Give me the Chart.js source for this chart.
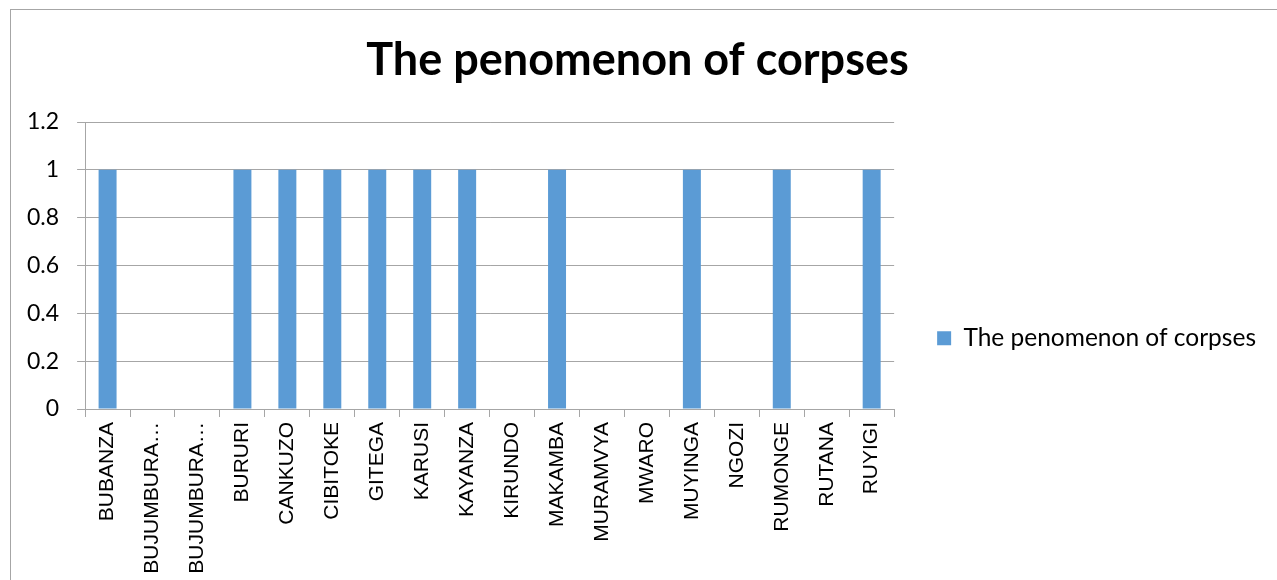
<!DOCTYPE html>
<html>
<head>
<meta charset="utf-8">
<script src="https://cdn.jsdelivr.net/npm/chart.js@4"></script>
<style>
  html, body { margin: 0; padding: 0; overflow: hidden; background: #fff; }
  #wrap { position: relative; width: 1277px; height: 580px; }
  #frame { position: absolute; left: 10px; top: 9px; width: 1400px; height: 700px;
           border: 1px solid #a6a6a6; pointer-events: none; }
</style>
</head>
<body>
<div id="wrap">
  <canvas id="grafico" width="1277" height="580"></canvas>
  <div id="frame"></div>
</div>
<script>
// ===============================
// DATA
// ===============================

const provinces = [
    "BUBANZA", "BUJUMBURA…", "BUJUMBURA…", "BURURI", "CANKUZO", "CIBITOKE",
    "GITEGA", "KARUSI", "KAYANZA", "KIRUNDO", "MAKAMBA", "MURAMVYA",
    "MWARO", "MUYINGA", "NGOZI", "RUMONGE", "RUTANA", "RUYIGI"
];

const corpses = [1, 0, 0, 1, 1, 1, 1, 1, 1, 0, 1, 0, 0, 1, 0, 1, 0, 1];

const yTicks = [0, 0.2, 0.4, 0.6, 0.8, 1, 1.2];

const seriesName = "The penomenon of corpses";


// ===============================
// CHART
// ===============================

const gridColor = "#a6a6a6";

new Chart(document.getElementById("grafico"), {
    type: "bar",
    data: {
        labels: provinces,
        datasets: [{
            label: seriesName,
            data: corpses,
            backgroundColor: "#5b9bd5",
            categoryPercentage: 1,
            barPercentage: 0.4
        }]
    },
    options: {
        responsive: false,
        animation: false,
        layout: {
            padding: { left: 9, right: 11, top: 10, bottom: 0 }
        },
        plugins: {
            title: {
                display: true,
                text: seriesName,
                color: "#000",
                font: { family: "Lato", size: 45, weight: "bold" },
                padding: { top: 23, bottom: 35 }
            },
            legend: {
                position: "right",
                maxWidth: 420,
                // empty title only pushes the single entry down to mid-height
                title: {
                    display: true,
                    text: "",
                    font: { family: "Lato", size: 23 },
                    padding: { top: 0, bottom: 59 }
                },
                labels: {
                    color: "#000",
                    font: { family: "Lato", size: 24.5 },
                    boxWidth: 14,
                    boxHeight: 14,
                    padding: 43
                }
            },
            tooltip: { enabled: false }
        },
        scales: {
            x: {
                afterFit: (axis) => { axis.height = 171; },
                grid: {
                    offset: true,
                    drawOnChartArea: false,
                    drawTicks: true,
                    tickLength: 8,
                    color: gridColor
                },
                border: { color: gridColor },
                ticks: {
                    color: "#000",
                    font: { family: "Liberation Sans", size: 21 },
                    minRotation: 90,
                    maxRotation: 90,
                    padding: 5,
                    autoSkip: false
                }
            },
            y: {
                min: 0,
                max: 1.2,
                afterBuildTicks: (axis) => {
                    axis.ticks = yTicks.map(v => ({ value: v }));
                },
                grid: {
                    color: gridColor,
                    drawTicks: true,
                    tickLength: 8
                },
                border: { color: gridColor },
                ticks: {
                    color: "#000",
                    font: { family: "Lato", size: 23 },
                    padding: 18,
                    callback: (v) => String(v)
                }
            }
        }
    }
});
</script>
</body>
</html>
